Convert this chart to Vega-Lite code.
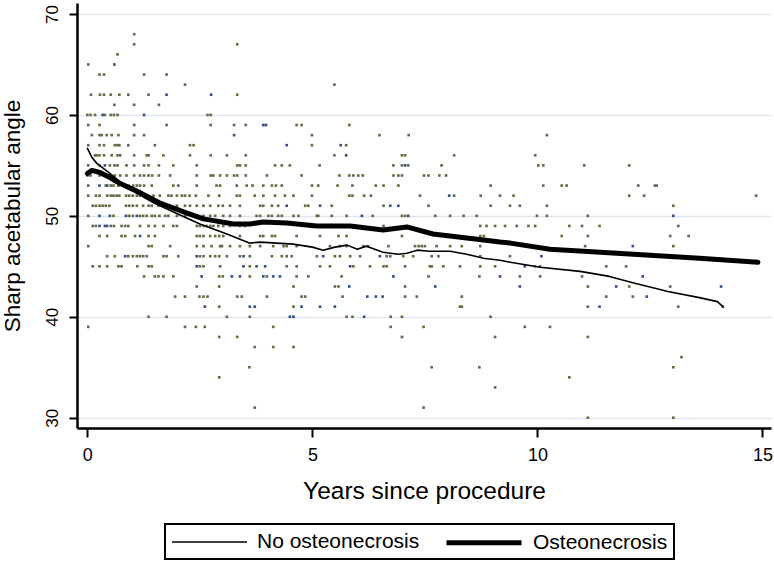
{
"$schema": "https://vega.github.io/schema/vega-lite/v6.json",
"autosize": {"type": "none"},
"padding": {"left": 77, "top": 3, "right": 3, "bottom": 133},
"width": 694,
"height": 425,
"background": "white",
"config": {"view": {"stroke": null}, "font": "Liberation Sans", "legend": {"strokeWidth": 2}},
"datasets": {
"pts": [
{"x":1.04,"y":68,"c":"g"},
{"x":1.04,"y":67,"c":"g"},{"x":3.33,"y":67,"c":"g"},
{"x":0.67,"y":66,"c":"g"},
{"x":0.02,"y":65,"c":"g"},{"x":0.6,"y":65,"c":"b"},
{"x":0.27,"y":64,"c":"g"},{"x":0.37,"y":64,"c":"g"},{"x":1.26,"y":64,"c":"g"},{"x":1.76,"y":64,"c":"g"},
{"x":2.17,"y":63,"c":"g"},{"x":5.49,"y":63,"c":"g"},
{"x":0.08,"y":62,"c":"g"},{"x":0.28,"y":62,"c":"g"},{"x":0.37,"y":62,"c":"g"},{"x":0.52,"y":62,"c":"g"},{"x":0.71,"y":62,"c":"g"},{"x":0.91,"y":62,"c":"g"},{"x":1.36,"y":62,"c":"g"},{"x":1.76,"y":62,"c":"b"},{"x":2.75,"y":62,"c":"b"},{"x":3.33,"y":62,"c":"g"},
{"x":0.6,"y":61,"c":"g"},{"x":1.04,"y":61,"c":"g"},{"x":1.59,"y":61,"c":"g"},
{"x":0,"y":60,"c":"g"},{"x":0.07,"y":60,"c":"g"},{"x":0.17,"y":60,"c":"g"},{"x":0.34,"y":60,"c":"b"},{"x":0.39,"y":60,"c":"g"},{"x":0.52,"y":60,"c":"g"},{"x":0.59,"y":60,"c":"g"},{"x":0.67,"y":60,"c":"g"},{"x":1.26,"y":60,"c":"b"},{"x":2.67,"y":60,"c":"g"},{"x":2.74,"y":60,"c":"g"},
{"x":0.02,"y":59,"c":"g"},{"x":0.27,"y":59,"c":"g"},{"x":1.04,"y":59,"c":"g"},{"x":1.76,"y":59,"c":"g"},{"x":2.74,"y":59,"c":"g"},{"x":3.26,"y":59,"c":"g"},{"x":3.52,"y":59,"c":"g"},{"x":3.91,"y":59,"c":"b"},{"x":3.97,"y":59,"c":"b"},{"x":4.65,"y":59,"c":"g"},{"x":4.76,"y":59,"c":"g"},{"x":5.82,"y":59,"c":"g"},
{"x":0.1,"y":58,"c":"g"},{"x":0.27,"y":58,"c":"g"},{"x":0.32,"y":58,"c":"g"},{"x":0.43,"y":58,"c":"g"},{"x":0.54,"y":58,"c":"g"},{"x":0.69,"y":58,"c":"g"},{"x":1.04,"y":58,"c":"g"},{"x":1.26,"y":58,"c":"g"},{"x":3.26,"y":58,"c":"b"},{"x":4.99,"y":58,"c":"g"},{"x":6.49,"y":58,"c":"g"},{"x":7.14,"y":58,"c":"g"},{"x":10.21,"y":58,"c":"g"},
{"x":0.02,"y":57,"c":"g"},{"x":0.27,"y":57,"c":"g"},{"x":0.37,"y":57,"c":"g"},{"x":0.61,"y":57,"c":"g"},{"x":0.67,"y":57,"c":"g"},{"x":0.71,"y":57,"c":"g"},{"x":0.91,"y":57,"c":"g"},{"x":1.5,"y":57,"c":"g"},{"x":2.28,"y":57,"c":"g"},{"x":2.36,"y":57,"c":"g"},{"x":4.43,"y":57,"c":"b"},{"x":4.99,"y":57,"c":"g"},{"x":5.63,"y":57,"c":"b"},{"x":5.75,"y":57,"c":"g"},
{"x":0.17,"y":56,"c":"g"},{"x":0.21,"y":56,"c":"g"},{"x":0.27,"y":56,"c":"g"},{"x":0.37,"y":56,"c":"g"},{"x":0.54,"y":56,"c":"g"},{"x":0.67,"y":56,"c":"g"},{"x":0.73,"y":56,"c":"g"},{"x":1.04,"y":56,"c":"g"},{"x":1.32,"y":56,"c":"g"},{"x":1.36,"y":56,"c":"g"},{"x":1.69,"y":56,"c":"g"},{"x":2.28,"y":56,"c":"g"},{"x":2.74,"y":56,"c":"g"},{"x":3.1,"y":56,"c":"g"},{"x":3.52,"y":56,"c":"g"},{"x":5.49,"y":56,"c":"g"},{"x":5.75,"y":56,"c":"b"},{"x":6.99,"y":56,"c":"g"},{"x":7.06,"y":56,"c":"g"},{"x":8.15,"y":56,"c":"g"},{"x":9.95,"y":56,"c":"g"},
{"x":0.02,"y":55,"c":"g"},{"x":0.27,"y":55,"c":"g"},{"x":0.39,"y":55,"c":"b"},{"x":0.5,"y":55,"c":"g"},{"x":0.6,"y":55,"c":"g"},{"x":0.67,"y":55,"c":"g"},{"x":0.87,"y":55,"c":"g"},{"x":1.04,"y":55,"c":"g"},{"x":1.26,"y":55,"c":"g"},{"x":1.36,"y":55,"c":"g"},{"x":1.59,"y":55,"c":"g"},{"x":1.91,"y":55,"c":"g"},{"x":2.43,"y":55,"c":"g"},{"x":3.33,"y":55,"c":"g"},{"x":3.39,"y":55,"c":"g"},{"x":3.52,"y":55,"c":"g"},{"x":4.17,"y":55,"c":"g"},{"x":4.32,"y":55,"c":"g"},{"x":4.5,"y":55,"c":"g"},{"x":5.16,"y":55,"c":"g"},{"x":6.8,"y":55,"c":"g"},{"x":6.99,"y":55,"c":"g"},{"x":7.06,"y":55,"c":"b"},{"x":7.13,"y":55,"c":"g"},{"x":7.87,"y":55,"c":"g"},{"x":10.02,"y":55,"c":"g"},{"x":10.13,"y":55,"c":"g"},{"x":11.04,"y":55,"c":"g"},{"x":12.04,"y":55,"c":"g"},
{"x":0,"y":54,"c":"g"},{"x":0.07,"y":54,"c":"g"},{"x":0.27,"y":54,"c":"g"},{"x":0.36,"y":54,"c":"g"},{"x":0.43,"y":54,"c":"g"},{"x":0.49,"y":54,"c":"g"},{"x":0.61,"y":54,"c":"g"},{"x":0.73,"y":54,"c":"g"},{"x":0.87,"y":54,"c":"g"},{"x":1.04,"y":54,"c":"g"},{"x":1.17,"y":54,"c":"g"},{"x":1.26,"y":54,"c":"g"},{"x":1.36,"y":54,"c":"g"},{"x":1.44,"y":54,"c":"g"},{"x":1.59,"y":54,"c":"g"},{"x":1.84,"y":54,"c":"g"},{"x":2.43,"y":54,"c":"g"},{"x":2.74,"y":54,"c":"g"},{"x":2.8,"y":54,"c":"g"},{"x":2.95,"y":54,"c":"g"},{"x":3.1,"y":54,"c":"g"},{"x":3.26,"y":54,"c":"g"},{"x":3.33,"y":54,"c":"g"},{"x":3.52,"y":54,"c":"g"},{"x":3.99,"y":54,"c":"g"},{"x":4.76,"y":54,"c":"g"},{"x":5.6,"y":54,"c":"g"},{"x":5.82,"y":54,"c":"g"},{"x":5.91,"y":54,"c":"g"},{"x":6.02,"y":54,"c":"g"},{"x":6.12,"y":54,"c":"g"},{"x":6.8,"y":54,"c":"g"},{"x":6.91,"y":54,"c":"g"},{"x":6.99,"y":54,"c":"g"},{"x":7.48,"y":54,"c":"g"},{"x":7.58,"y":54,"c":"g"},{"x":7.82,"y":54,"c":"g"},{"x":7.97,"y":54,"c":"g"},
{"x":0.02,"y":53,"c":"g"},{"x":0.27,"y":53,"c":"b"},{"x":0.41,"y":53,"c":"g"},{"x":0.44,"y":53,"c":"b"},{"x":0.52,"y":53,"c":"g"},{"x":0.58,"y":53,"c":"g"},{"x":0.69,"y":53,"c":"g"},{"x":0.84,"y":53,"c":"g"},{"x":0.91,"y":53,"c":"g"},{"x":1.02,"y":53,"c":"g"},{"x":1.1,"y":53,"c":"g"},{"x":1.17,"y":53,"c":"g"},{"x":1.26,"y":53,"c":"g"},{"x":1.43,"y":53,"c":"g"},{"x":1.91,"y":53,"c":"g"},{"x":2.02,"y":53,"c":"g"},{"x":2.43,"y":53,"c":"g"},{"x":2.87,"y":53,"c":"g"},{"x":2.95,"y":53,"c":"g"},{"x":3.32,"y":53,"c":"g"},{"x":3.54,"y":53,"c":"g"},{"x":3.67,"y":53,"c":"g"},{"x":3.91,"y":53,"c":"g"},{"x":4.1,"y":53,"c":"g"},{"x":4.19,"y":53,"c":"g"},{"x":4.32,"y":53,"c":"g"},{"x":4.99,"y":53,"c":"g"},{"x":5.13,"y":53,"c":"g"},{"x":5.56,"y":53,"c":"g"},{"x":5.89,"y":53,"c":"g"},{"x":6.41,"y":53,"c":"g"},{"x":6.58,"y":53,"c":"g"},{"x":6.91,"y":53,"c":"g"},{"x":8.96,"y":53,"c":"g"},{"x":10.13,"y":53,"c":"g"},{"x":10.54,"y":53,"c":"g"},{"x":10.65,"y":53,"c":"g"},{"x":12.24,"y":53,"c":"g"},{"x":12.61,"y":53,"c":"g"},{"x":12.65,"y":53,"c":"g"},
{"x":0.02,"y":52,"c":"g"},{"x":0.19,"y":52,"c":"g"},{"x":0.27,"y":52,"c":"g"},{"x":0.44,"y":52,"c":"g"},{"x":0.52,"y":52,"c":"g"},{"x":0.58,"y":52,"c":"g"},{"x":0.65,"y":52,"c":"g"},{"x":0.71,"y":52,"c":"g"},{"x":0.86,"y":52,"c":"g"},{"x":0.93,"y":52,"c":"g"},{"x":1.01,"y":52,"c":"g"},{"x":1.1,"y":52,"c":"g"},{"x":1.17,"y":52,"c":"g"},{"x":1.28,"y":52,"c":"g"},{"x":1.47,"y":52,"c":"g"},{"x":1.61,"y":52,"c":"g"},{"x":1.8,"y":52,"c":"g"},{"x":1.87,"y":52,"c":"g"},{"x":1.99,"y":52,"c":"g"},{"x":2.1,"y":52,"c":"g"},{"x":2.17,"y":52,"c":"g"},{"x":2.27,"y":52,"c":"g"},{"x":2.41,"y":52,"c":"g"},{"x":2.69,"y":52,"c":"g"},{"x":2.93,"y":52,"c":"g"},{"x":3.32,"y":52,"c":"g"},{"x":3.39,"y":52,"c":"g"},{"x":3.72,"y":52,"c":"g"},{"x":3.91,"y":52,"c":"g"},{"x":4.17,"y":52,"c":"g"},{"x":4.39,"y":52,"c":"g"},{"x":4.58,"y":52,"c":"g"},{"x":4.99,"y":52,"c":"g"},{"x":5.82,"y":52,"c":"g"},{"x":5.89,"y":52,"c":"g"},{"x":6.15,"y":52,"c":"g"},{"x":6.3,"y":52,"c":"g"},{"x":7.39,"y":52,"c":"g"},{"x":8.04,"y":52,"c":"b"},{"x":8.15,"y":52,"c":"g"},{"x":8.74,"y":52,"c":"g"},{"x":9.17,"y":52,"c":"g"},{"x":9.47,"y":52,"c":"g"},{"x":12.04,"y":52,"c":"g"},{"x":12.37,"y":52,"c":"g"},{"x":14.86,"y":52,"c":"g"},
{"x":0.12,"y":51,"c":"g"},{"x":0.19,"y":51,"c":"g"},{"x":0.27,"y":51,"c":"g"},{"x":0.34,"y":51,"c":"g"},{"x":0.41,"y":51,"c":"g"},{"x":0.49,"y":51,"c":"g"},{"x":0.86,"y":51,"c":"g"},{"x":0.93,"y":51,"c":"g"},{"x":1.01,"y":51,"c":"g"},{"x":1.1,"y":51,"c":"g"},{"x":1.24,"y":51,"c":"g"},{"x":1.36,"y":51,"c":"g"},{"x":1.43,"y":51,"c":"g"},{"x":1.58,"y":51,"c":"g"},{"x":1.69,"y":51,"c":"g"},{"x":1.99,"y":51,"c":"g"},{"x":2.17,"y":51,"c":"g"},{"x":2.28,"y":51,"c":"g"},{"x":2.43,"y":51,"c":"g"},{"x":2.58,"y":51,"c":"g"},{"x":2.73,"y":51,"c":"g"},{"x":2.91,"y":51,"c":"g"},{"x":3.01,"y":51,"c":"g"},{"x":3.17,"y":51,"c":"g"},{"x":3.39,"y":51,"c":"g"},{"x":3.84,"y":51,"c":"g"},{"x":3.91,"y":51,"c":"g"},{"x":4.1,"y":51,"c":"g"},{"x":4.24,"y":51,"c":"g"},{"x":4.43,"y":51,"c":"b"},{"x":4.84,"y":51,"c":"g"},{"x":4.91,"y":51,"c":"g"},{"x":5.17,"y":51,"c":"b"},{"x":5.43,"y":51,"c":"g"},{"x":6.58,"y":51,"c":"g"},{"x":6.73,"y":51,"c":"b"},{"x":6.91,"y":51,"c":"b"},{"x":7.58,"y":51,"c":"g"},{"x":8.96,"y":51,"c":"g"},{"x":9.39,"y":51,"c":"g"},{"x":9.61,"y":51,"c":"g"},{"x":10.21,"y":51,"c":"g"},{"x":13.02,"y":51,"c":"g"},
{"x":0.02,"y":50,"c":"g"},{"x":0.27,"y":50,"c":"b"},{"x":0.5,"y":50,"c":"b"},{"x":0.58,"y":50,"c":"g"},{"x":0.86,"y":50,"c":"b"},{"x":0.93,"y":50,"c":"g"},{"x":1.01,"y":50,"c":"g"},{"x":1.1,"y":50,"c":"b"},{"x":1.17,"y":50,"c":"g"},{"x":1.24,"y":50,"c":"g"},{"x":1.32,"y":50,"c":"g"},{"x":1.43,"y":50,"c":"g"},{"x":1.5,"y":50,"c":"g"},{"x":1.6,"y":50,"c":"g"},{"x":1.73,"y":50,"c":"g"},{"x":1.8,"y":50,"c":"g"},{"x":1.99,"y":50,"c":"g"},{"x":2.17,"y":50,"c":"g"},{"x":2.43,"y":50,"c":"g"},{"x":2.58,"y":50,"c":"g"},{"x":2.73,"y":50,"c":"g"},{"x":2.84,"y":50,"c":"g"},{"x":3.02,"y":50,"c":"g"},{"x":3.17,"y":50,"c":"g"},{"x":3.39,"y":50,"c":"g"},{"x":3.76,"y":50,"c":"g"},{"x":3.84,"y":50,"c":"g"},{"x":4.02,"y":50,"c":"g"},{"x":4.1,"y":50,"c":"g"},{"x":4.24,"y":50,"c":"g"},{"x":4.32,"y":50,"c":"g"},{"x":4.58,"y":50,"c":"g"},{"x":4.69,"y":50,"c":"g"},{"x":5.1,"y":50,"c":"g"},{"x":5.13,"y":50,"c":"g"},{"x":5.43,"y":50,"c":"g"},{"x":5.76,"y":50,"c":"g"},{"x":6.1,"y":50,"c":"b"},{"x":6.34,"y":50,"c":"g"},{"x":6.99,"y":50,"c":"g"},{"x":7.06,"y":50,"c":"g"},{"x":7.13,"y":50,"c":"b"},{"x":7.73,"y":50,"c":"g"},{"x":8.06,"y":50,"c":"g"},{"x":8.36,"y":50,"c":"g"},{"x":8.65,"y":50,"c":"g"},{"x":9.99,"y":50,"c":"g"},{"x":10.21,"y":50,"c":"g"},{"x":11.12,"y":50,"c":"g"},{"x":13.02,"y":50,"c":"b"},
{"x":0.12,"y":49,"c":"g"},{"x":0.19,"y":49,"c":"g"},{"x":0.27,"y":49,"c":"b"},{"x":0.39,"y":49,"c":"b"},{"x":0.44,"y":49,"c":"b"},{"x":0.52,"y":49,"c":"g"},{"x":0.59,"y":49,"c":"g"},{"x":0.76,"y":49,"c":"g"},{"x":0.84,"y":49,"c":"g"},{"x":0.91,"y":49,"c":"g"},{"x":1.17,"y":49,"c":"g"},{"x":1.36,"y":49,"c":"g"},{"x":1.5,"y":49,"c":"g"},{"x":1.69,"y":49,"c":"g"},{"x":1.91,"y":49,"c":"g"},{"x":1.99,"y":49,"c":"g"},{"x":2.43,"y":49,"c":"g"},{"x":2.5,"y":49,"c":"g"},{"x":2.58,"y":49,"c":"g"},{"x":2.65,"y":49,"c":"g"},{"x":2.73,"y":49,"c":"g"},{"x":2.8,"y":49,"c":"g"},{"x":2.91,"y":49,"c":"g"},{"x":3.02,"y":49,"c":"g"},{"x":3.17,"y":49,"c":"g"},{"x":3.39,"y":49,"c":"g"},{"x":3.5,"y":49,"c":"g"},{"x":6.58,"y":49,"c":"g"},{"x":8.73,"y":49,"c":"g"},{"x":8.87,"y":49,"c":"g"},{"x":9.06,"y":49,"c":"g"},{"x":9.28,"y":49,"c":"g"},{"x":9.54,"y":49,"c":"g"},{"x":9.8,"y":49,"c":"g"},{"x":9.95,"y":49,"c":"g"},{"x":10.71,"y":49,"c":"g"},{"x":10.99,"y":49,"c":"g"},{"x":11.38,"y":49,"c":"g"},{"x":13.13,"y":49,"c":"g"},
{"x":0.27,"y":48,"c":"g"},{"x":0.44,"y":48,"c":"g"},{"x":0.76,"y":48,"c":"g"},{"x":0.84,"y":48,"c":"g"},{"x":1.06,"y":48,"c":"g"},{"x":1.17,"y":48,"c":"b"},{"x":1.36,"y":48,"c":"g"},{"x":1.5,"y":48,"c":"g"},{"x":2.43,"y":48,"c":"g"},{"x":2.5,"y":48,"c":"g"},{"x":2.58,"y":48,"c":"g"},{"x":2.73,"y":48,"c":"g"},{"x":2.84,"y":48,"c":"g"},{"x":2.93,"y":48,"c":"g"},{"x":3.02,"y":48,"c":"g"},{"x":3.39,"y":48,"c":"g"},{"x":3.84,"y":48,"c":"g"},{"x":3.91,"y":48,"c":"g"},{"x":4.1,"y":48,"c":"g"},{"x":4.17,"y":48,"c":"g"},{"x":4.65,"y":48,"c":"g"},{"x":5.17,"y":48,"c":"g"},{"x":5.58,"y":48,"c":"g"},{"x":5.76,"y":48,"c":"g"},{"x":6.99,"y":48,"c":"g"},{"x":8.73,"y":48,"c":"g"},{"x":8.81,"y":48,"c":"g"},{"x":10.54,"y":48,"c":"g"},{"x":11.12,"y":48,"c":"g"},{"x":12.95,"y":48,"c":"g"},{"x":13.36,"y":48,"c":"g"},
{"x":0.02,"y":47,"c":"g"},{"x":1.36,"y":47,"c":"g"},{"x":1.43,"y":47,"c":"g"},{"x":1.84,"y":47,"c":"g"},{"x":2.43,"y":47,"c":"g"},{"x":2.58,"y":47,"c":"g"},{"x":2.76,"y":47,"c":"g"},{"x":2.95,"y":47,"c":"g"},{"x":2.99,"y":47,"c":"g"},{"x":3.17,"y":47,"c":"g"},{"x":3.39,"y":47,"c":"g"},{"x":3.61,"y":47,"c":"g"},{"x":3.84,"y":47,"c":"g"},{"x":4.13,"y":47,"c":"g"},{"x":4.36,"y":47,"c":"g"},{"x":4.43,"y":47,"c":"g"},{"x":4.65,"y":47,"c":"g"},{"x":5.39,"y":47,"c":"g"},{"x":5.61,"y":47,"c":"g"},{"x":5.76,"y":47,"c":"g"},{"x":6.13,"y":47,"c":"g"},{"x":6.24,"y":47,"c":"g"},{"x":6.69,"y":47,"c":"g"},{"x":7.28,"y":47,"c":"g"},{"x":7.36,"y":47,"c":"g"},{"x":7.43,"y":47,"c":"g"},{"x":7.5,"y":47,"c":"g"},{"x":7.76,"y":47,"c":"g"},{"x":8.06,"y":47,"c":"g"},{"x":8.32,"y":47,"c":"g"},{"x":8.73,"y":47,"c":"g"},{"x":11.06,"y":47,"c":"g"},{"x":12.12,"y":47,"c":"b"},{"x":13.02,"y":47,"c":"g"},
{"x":0.44,"y":46,"c":"g"},{"x":0.61,"y":46,"c":"g"},{"x":0.84,"y":46,"c":"b"},{"x":0.91,"y":46,"c":"g"},{"x":1.01,"y":46,"c":"g"},{"x":1.1,"y":46,"c":"g"},{"x":1.17,"y":46,"c":"g"},{"x":1.24,"y":46,"c":"g"},{"x":1.32,"y":46,"c":"g"},{"x":1.69,"y":46,"c":"g"},{"x":1.76,"y":46,"c":"g"},{"x":2.02,"y":46,"c":"g"},{"x":2.43,"y":46,"c":"b"},{"x":2.5,"y":46,"c":"g"},{"x":2.58,"y":46,"c":"g"},{"x":2.73,"y":46,"c":"g"},{"x":2.84,"y":46,"c":"g"},{"x":2.93,"y":46,"c":"g"},{"x":3.1,"y":46,"c":"g"},{"x":3.39,"y":46,"c":"g"},{"x":3.47,"y":46,"c":"b"},{"x":3.61,"y":46,"c":"g"},{"x":4.1,"y":46,"c":"g"},{"x":4.32,"y":46,"c":"g"},{"x":4.43,"y":46,"c":"g"},{"x":4.54,"y":46,"c":"g"},{"x":5.1,"y":46,"c":"g"},{"x":5.24,"y":46,"c":"b"},{"x":5.5,"y":46,"c":"g"},{"x":5.61,"y":46,"c":"g"},{"x":5.84,"y":46,"c":"g"},{"x":6.06,"y":46,"c":"g"},{"x":6.5,"y":46,"c":"b"},{"x":6.65,"y":46,"c":"g"},{"x":6.73,"y":46,"c":"g"},{"x":7.02,"y":46,"c":"g"},{"x":7.24,"y":46,"c":"g"},{"x":7.65,"y":46,"c":"g"},{"x":7.8,"y":46,"c":"g"},{"x":8.73,"y":46,"c":"g"},{"x":9.39,"y":46,"c":"g"},{"x":10.09,"y":46,"c":"b"},
{"x":0.12,"y":45,"c":"g"},{"x":0.27,"y":45,"c":"g"},{"x":0.44,"y":45,"c":"g"},{"x":0.69,"y":45,"c":"g"},{"x":0.76,"y":45,"c":"g"},{"x":1.11,"y":45,"c":"g"},{"x":1.36,"y":45,"c":"g"},{"x":1.43,"y":45,"c":"g"},{"x":2.43,"y":45,"c":"b"},{"x":2.5,"y":45,"c":"g"},{"x":2.58,"y":45,"c":"g"},{"x":2.95,"y":45,"c":"g"},{"x":3.47,"y":45,"c":"b"},{"x":3.61,"y":45,"c":"g"},{"x":3.76,"y":45,"c":"b"},{"x":3.95,"y":45,"c":"b"},{"x":4.43,"y":45,"c":"g"},{"x":4.65,"y":45,"c":"g"},{"x":5.17,"y":45,"c":"g"},{"x":5.39,"y":45,"c":"g"},{"x":5.84,"y":45,"c":"b"},{"x":5.91,"y":45,"c":"g"},{"x":6.28,"y":45,"c":"g"},{"x":6.58,"y":45,"c":"g"},{"x":6.65,"y":45,"c":"g"},{"x":7.06,"y":45,"c":"g"},{"x":7.61,"y":45,"c":"g"},{"x":7.65,"y":45,"c":"g"},{"x":7.91,"y":45,"c":"g"},{"x":8.28,"y":45,"c":"g"},{"x":8.73,"y":45,"c":"g"},{"x":9.06,"y":45,"c":"g"},{"x":9.72,"y":45,"c":"b"},{"x":9.95,"y":45,"c":"g"},{"x":10.06,"y":45,"c":"g"},{"x":11.53,"y":45,"c":"g"},{"x":11.97,"y":45,"c":"g"},
{"x":1.26,"y":44,"c":"g"},{"x":1.5,"y":44,"c":"g"},{"x":1.58,"y":44,"c":"g"},{"x":1.69,"y":44,"c":"g"},{"x":1.91,"y":44,"c":"g"},{"x":2.54,"y":44,"c":"b"},{"x":2.93,"y":44,"c":"g"},{"x":3.01,"y":44,"c":"g"},{"x":3.21,"y":44,"c":"b"},{"x":3.39,"y":44,"c":"b"},{"x":3.61,"y":44,"c":"g"},{"x":3.91,"y":44,"c":"b"},{"x":3.99,"y":44,"c":"g"},{"x":4.13,"y":44,"c":"b"},{"x":4.28,"y":44,"c":"b"},{"x":4.65,"y":44,"c":"g"},{"x":4.91,"y":44,"c":"g"},{"x":5.65,"y":44,"c":"g"},{"x":6.8,"y":44,"c":"b"},{"x":7.58,"y":44,"c":"g"},{"x":8.71,"y":44,"c":"g"},{"x":9.17,"y":44,"c":"b"},{"x":9.61,"y":44,"c":"g"},{"x":10.06,"y":44,"c":"g"},{"x":10.99,"y":44,"c":"g"},{"x":12.34,"y":44,"c":"b"},
{"x":2.43,"y":43,"c":"g"},{"x":2.93,"y":43,"c":"g"},{"x":4.58,"y":43,"c":"g"},{"x":5.5,"y":43,"c":"g"},{"x":5.58,"y":43,"c":"g"},{"x":5.82,"y":43,"c":"b"},{"x":7.06,"y":43,"c":"g"},{"x":7.73,"y":43,"c":"b"},{"x":9.61,"y":43,"c":"b"},{"x":11.12,"y":43,"c":"g"},{"x":11.75,"y":43,"c":"b"},{"x":12.04,"y":43,"c":"g"},{"x":12.95,"y":43,"c":"g"},{"x":14.08,"y":43,"c":"b"},
{"x":1.95,"y":42,"c":"g"},{"x":2.17,"y":42,"c":"g"},{"x":2.49,"y":42,"c":"g"},{"x":2.58,"y":42,"c":"g"},{"x":2.67,"y":42,"c":"g"},{"x":3.33,"y":42,"c":"g"},{"x":3.43,"y":42,"c":"g"},{"x":3.99,"y":42,"c":"g"},{"x":4.76,"y":42,"c":"g"},{"x":4.84,"y":42,"c":"g"},{"x":5.67,"y":42,"c":"g"},{"x":6.22,"y":42,"c":"b"},{"x":6.41,"y":42,"c":"b"},{"x":6.56,"y":42,"c":"b"},{"x":7.06,"y":42,"c":"g"},{"x":7.32,"y":42,"c":"g"},{"x":8.32,"y":42,"c":"g"},{"x":11.53,"y":42,"c":"g"},{"x":12.12,"y":42,"c":"g"},{"x":12.43,"y":42,"c":"b"},
{"x":2.61,"y":41,"c":"b"},{"x":2.93,"y":41,"c":"g"},{"x":3.61,"y":41,"c":"b"},{"x":3.72,"y":41,"c":"b"},{"x":4.58,"y":41,"c":"g"},{"x":4.76,"y":41,"c":"b"},{"x":5.17,"y":41,"c":"b"},{"x":5.5,"y":41,"c":"b"},{"x":8.28,"y":41,"c":"g"},{"x":8.32,"y":41,"c":"g"},{"x":11.12,"y":41,"c":"g"},{"x":11.38,"y":41,"c":"b"},{"x":13.13,"y":41,"c":"g"},{"x":14.12,"y":41,"c":"b"},
{"x":1.36,"y":40,"c":"g"},{"x":1.76,"y":40,"c":"g"},{"x":3.1,"y":40,"c":"g"},{"x":3.61,"y":40,"c":"g"},{"x":4.5,"y":40,"c":"b"},{"x":4.58,"y":40,"c":"b"},{"x":5.76,"y":40,"c":"g"},{"x":5.89,"y":40,"c":"g"},{"x":6.15,"y":40,"c":"b"},{"x":6.74,"y":40,"c":"g"},{"x":6.99,"y":40,"c":"g"},{"x":8.96,"y":40,"c":"g"},
{"x":0.02,"y":39,"c":"g"},{"x":2.17,"y":39,"c":"g"},{"x":2.41,"y":39,"c":"g"},{"x":2.61,"y":39,"c":"g"},{"x":4.13,"y":39,"c":"g"},{"x":6.74,"y":39,"c":"g"},{"x":7.47,"y":39,"c":"g"},{"x":9.72,"y":39,"c":"g"},{"x":10.28,"y":39,"c":"g"},
{"x":2.93,"y":38,"c":"g"},{"x":3.33,"y":38,"c":"g"},{"x":6.99,"y":38,"c":"g"},{"x":9.06,"y":38,"c":"g"},{"x":11.12,"y":38,"c":"g"},
{"x":3.72,"y":37,"c":"g"},{"x":4.13,"y":37,"c":"g"},{"x":4.58,"y":37,"c":"g"},
{"x":13.2,"y":36,"c":"g"},
{"x":3.6,"y":35,"c":"g"},{"x":7.65,"y":35,"c":"g"},{"x":8.71,"y":35,"c":"g"},{"x":13.02,"y":35,"c":"g"},
{"x":2.93,"y":34,"c":"g"},{"x":10.71,"y":34,"c":"g"},
{"x":9.06,"y":33,"c":"g"},
{"x":3.72,"y":31,"c":"g"},{"x":7.47,"y":31,"c":"g"},
{"x":11.12,"y":30,"c":"g"},{"x":13.02,"y":30,"c":"g"}
],
"fit": [
{"x":0,"y":56.7,"s":"No osteonecrosis"},{"x":0.1,"y":55.8,"s":"No osteonecrosis"},{"x":0.21,"y":55.2,"s":"No osteonecrosis"},{"x":0.5,"y":54.2,"s":"No osteonecrosis"},{"x":0.75,"y":53.3,"s":"No osteonecrosis"},{"x":1.0,"y":52.5,"s":"No osteonecrosis"},{"x":1.47,"y":51.3,"s":"No osteonecrosis"},{"x":2.0,"y":50.2,"s":"No osteonecrosis"},{"x":2.5,"y":49.2,"s":"No osteonecrosis"},{"x":3.1,"y":48.2,"s":"No osteonecrosis"},{"x":3.6,"y":47.3,"s":"No osteonecrosis"},{"x":3.84,"y":47.4,"s":"No osteonecrosis"},{"x":4.2,"y":47.3,"s":"No osteonecrosis"},{"x":4.57,"y":47.2,"s":"No osteonecrosis"},{"x":5.0,"y":46.9,"s":"No osteonecrosis"},{"x":5.24,"y":46.6,"s":"No osteonecrosis"},{"x":5.5,"y":46.9,"s":"No osteonecrosis"},{"x":5.77,"y":47.1,"s":"No osteonecrosis"},{"x":6.0,"y":46.7,"s":"No osteonecrosis"},{"x":6.2,"y":47.0,"s":"No osteonecrosis"},{"x":6.57,"y":46.4,"s":"No osteonecrosis"},{"x":6.9,"y":46.2,"s":"No osteonecrosis"},{"x":7.1,"y":46.3,"s":"No osteonecrosis"},{"x":7.33,"y":46.6,"s":"No osteonecrosis"},{"x":7.6,"y":46.5,"s":"No osteonecrosis"},{"x":8.06,"y":46.5,"s":"No osteonecrosis"},{"x":8.43,"y":46.2,"s":"No osteonecrosis"},{"x":8.8,"y":45.8,"s":"No osteonecrosis"},{"x":9.17,"y":45.6,"s":"No osteonecrosis"},{"x":9.4,"y":45.4,"s":"No osteonecrosis"},{"x":10.06,"y":44.9,"s":"No osteonecrosis"},{"x":10.95,"y":44.5,"s":"No osteonecrosis"},{"x":11.6,"y":44.0,"s":"No osteonecrosis"},{"x":12.1,"y":43.4,"s":"No osteonecrosis"},{"x":12.9,"y":42.5,"s":"No osteonecrosis"},{"x":13.6,"y":41.9,"s":"No osteonecrosis"},{"x":14.0,"y":41.5,"s":"No osteonecrosis"},{"x":14.12,"y":41.0,"s":"No osteonecrosis"},
{"x":0,"y":54.2,"s":"Osteonecrosis"},{"x":0.1,"y":54.5,"s":"Osteonecrosis"},{"x":0.28,"y":54.3,"s":"Osteonecrosis"},{"x":0.5,"y":53.8,"s":"Osteonecrosis"},{"x":0.73,"y":53.2,"s":"Osteonecrosis"},{"x":1.17,"y":52.3,"s":"Osteonecrosis"},{"x":1.6,"y":51.3,"s":"Osteonecrosis"},{"x":2.2,"y":50.3,"s":"Osteonecrosis"},{"x":2.58,"y":49.7,"s":"Osteonecrosis"},{"x":3.25,"y":49.2,"s":"Osteonecrosis"},{"x":3.62,"y":49.2,"s":"Osteonecrosis"},{"x":3.91,"y":49.4,"s":"Osteonecrosis"},{"x":4.43,"y":49.3,"s":"Osteonecrosis"},{"x":5.1,"y":49.0,"s":"Osteonecrosis"},{"x":5.84,"y":49.0,"s":"Osteonecrosis"},{"x":6.57,"y":48.6,"s":"Osteonecrosis"},{"x":7.1,"y":48.9,"s":"Osteonecrosis"},{"x":7.68,"y":48.2,"s":"Osteonecrosis"},{"x":8.43,"y":47.8,"s":"Osteonecrosis"},{"x":9.17,"y":47.4,"s":"Osteonecrosis"},{"x":9.4,"y":47.3,"s":"Osteonecrosis"},{"x":10.28,"y":46.7,"s":"Osteonecrosis"},{"x":11.4,"y":46.4,"s":"Osteonecrosis"},{"x":12.5,"y":46.1,"s":"Osteonecrosis"},{"x":13.6,"y":45.8,"s":"Osteonecrosis"},{"x":14.9,"y":45.4,"s":"Osteonecrosis"}
]
},
"layer": [
{
"data": {"name": "pts"},
"mark": {"type": "point", "filled": true, "shape": "square", "size": 7, "opacity": 1},
"encoding": {
"x": {"field": "x", "type": "quantitative", "scale": {"domain": [-0.23, 15.19], "nice": false, "zero": false},
"axis": {"values": [0, 5, 10, 15], "title": "Years since procedure", "grid": false,
"domainColor": "black", "domainWidth": 2.5, "tickColor": "black", "tickWidth": 2, "tickSize": 9,
"labelFont": "Liberation Sans", "labelFontSize": 18, "labelColor": "black", "labelPadding": 9, "labelFlush": false,
"titleFont": "Liberation Sans", "titleFontSize": 24.5, "titleFontWeight": "normal", "titleColor": "black", "titlePadding": 15}},
"y": {"field": "y", "type": "quantitative", "scale": {"domain": [28.98, 71.09], "nice": false, "zero": false},
"axis": {"values": [30, 40, 50, 60, 70], "title": "Sharp acetabular angle", "grid": true, "gridColor": "#dfe5ee", "gridWidth": 1.6,
"domainColor": "black", "domainWidth": 2.5, "tickColor": "black", "tickWidth": 2, "tickSize": 8,
"labelFont": "Liberation Sans", "labelFontSize": 17, "labelColor": "black", "labelAngle": -90, "labelAlign": "center", "labelBaseline": "bottom", "labelPadding": 8,
"titleFont": "Liberation Sans", "titleFontSize": 22.5, "titleFontWeight": "normal", "titleColor": "black", "titlePadding": 19}},
"color": {"field": "c", "type": "nominal", "scale": {"domain": ["g", "b"], "range": ["#5f6f42", "#33508c"]}, "legend": null}
}
},
{
"data": {"name": "fit"},
"mark": {"type": "line", "color": "black", "strokeCap": "round", "strokeJoin": "round"},
"encoding": {
"x": {"field": "x", "type": "quantitative"},
"y": {"field": "y", "type": "quantitative"},
"strokeWidth": {"field": "s", "type": "ordinal", "scale": {"domain": ["No osteonecrosis", "Osteonecrosis"], "range": [1.6, 5]},
"legend": {"orient": "none", "legendX": 88, "legendY": 521, "direction": "horizontal", "title": null,
"symbolType": "M-1,0L6.5,0", "symbolSize": 400, "symbolStrokeColor": "black", "symbolFillColor": "transparent",
"labelFont": "Liberation Sans", "labelFontSize": 21, "labelColor": "black", "labelOffset": 64, "labelLimit": 400,
"columnPadding": 16, "strokeColor": "black", "padding": 6}}
}
}
]
}
